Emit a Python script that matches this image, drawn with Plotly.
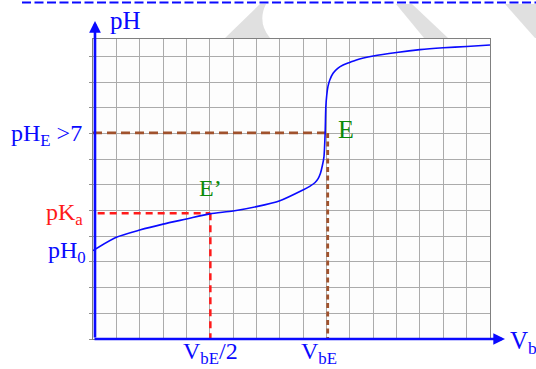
import plotly.graph_objects as go

# Titration curve: volume of base added (grid units) vs pH
vb = [0, 1, 2, 3, 4, 5, 6, 7, 8, 8.99, 9.28, 9.5, 9.64, 9.74, 9.82, 9.89,
      9.94, 9.97, 10.01, 10.06, 10.14, 10.28, 10.48, 10.71, 10.99, 11.28,
      12, 13, 14, 15, 16, 17]
ph = [3.44, 3.96, 4.24, 4.47, 4.67, 4.87, 4.98, 5.15, 5.38, 5.80, 5.94, 6.08,
      6.24, 6.45, 6.74, 7.09, 8.00, 9.04, 9.49, 9.82, 10.08, 10.34, 10.53,
      10.66, 10.76, 10.86, 11.01, 11.15, 11.26, 11.33, 11.38, 11.44]

# Characteristic points
v_eq = 10.05          # equivalence volume V_bE
ph_eq = 8.02          # pH at equivalence
pka = 4.89            # pH at half-equivalence
ph0 = 3.44            # initial pH

X_MAX = 17
Y_MAX = 300 / 25.7

# figure geometry (pixels) for decorations outside the axes
W, H = 536, 369
L, R, T, B = 93, 46, 39, 30
PW, PH_ = W - L - R, H - T - B


def px(x):
    return (x - L) / PW


def py(y):
    return (H - B - y) / PH_


BLUE = "#0a0aff"
GREEN = "#0a8a0a"
RED = "#ff1a1a"
BROWN = "#a0522d"
FONT = "Liberation Serif"

fig = go.Figure()

# dashed construction lines
fig.add_trace(go.Scatter(x=[0, v_eq], y=[ph_eq, ph_eq], mode="lines",
                         line=dict(color=BROWN, width=2.8, dash="9px,5px"),
                         hoverinfo="skip"))
fig.add_trace(go.Scatter(x=[v_eq, v_eq], y=[ph_eq, 0], mode="lines",
                         line=dict(color=BROWN, width=2.8, dash="5px,3.5px"),
                         hoverinfo="skip"))
fig.add_trace(go.Scatter(x=[0.2, v_eq / 2], y=[pka, pka], mode="lines",
                         line=dict(color=RED, width=2.5, dash="7px,5px"),
                         hoverinfo="skip"))
fig.add_trace(go.Scatter(x=[v_eq / 2, v_eq / 2], y=[pka, 0], mode="lines",
                         line=dict(color=RED, width=2.5, dash="7px,5px"),
                         hoverinfo="skip"))

# titration curve
fig.add_trace(go.Scatter(x=vb, y=ph, mode="lines",
                         line=dict(color=BLUE, width=1.6, shape="spline",
                                   smoothing=0.7),
                         hoverinfo="skip"))

annotations = []

# axis arrows
annotations.append(dict(xref="paper", yref="paper", x=px(505), y=0,
                        ax=-(505 - L), ay=0, axref="pixel", ayref="pixel",
                        showarrow=True, arrowhead=2, arrowsize=0.9,
                        arrowwidth=2.6, arrowcolor=BLUE, text=""))
annotations.append(dict(xref="paper", yref="paper", x=px(95), y=py(21),
                        ax=0, ay=(H - B - 21), axref="pixel", ayref="pixel",
                        showarrow=True, arrowhead=2, arrowsize=0.9,
                        arrowwidth=2.6, arrowcolor=BLUE, text=""))


def label(text, color, size=24, **kw):
    d = dict(text=text, showarrow=False,
             font=dict(family=FONT, size=size, color=color))
    d.update(kw)
    annotations.append(d)


# axis titles
label("pH", BLUE, size=25, xref="paper", yref="paper", x=px(108), y=py(20),
      xanchor="left", yanchor="middle")
label("V<sub>b</sub>", BLUE, size=25, xref="paper", yref="y", x=px(508),
      y=0, xanchor="left", yanchor="middle", yshift=-3)

# y-side labels
label("pH<sub>E</sub> >7", BLUE, xref="paper", yref="y", x=0, y=ph_eq,
      xanchor="right", yanchor="middle", xshift=-9, yshift=-2)
label("pK<sub>a</sub>", RED, xref="paper", yref="y", x=0, y=pka,
      xanchor="right", yanchor="middle", xshift=-8, yshift=-1)
label("pH<sub>0</sub>", BLUE, xref="paper", yref="y", x=0, y=ph0,
      xanchor="right", yanchor="middle", xshift=-5, yshift=-1)

# x-side labels
label("V<sub>bE</sub>/2", BLUE, xref="x", yref="paper", x=v_eq / 2, y=0,
      xanchor="center", yanchor="top", yshift=3)
label("V<sub>bE</sub>", BLUE, xref="x", yref="paper", x=v_eq, y=0,
      xanchor="center", yanchor="top", yshift=3, xshift=-9)

# point labels
label("E’", GREEN, xref="x", yref="y", x=v_eq / 2, y=pka + 1.0,
      xanchor="center", yanchor="middle")
label("E", GREEN, size=26, xref="x", yref="y", x=v_eq + 0.8, y=ph_eq + 0.15,
      xanchor="center", yanchor="middle")

shapes = []
# faint background marks above the chart
wm = "rgba(218,218,218,0.85)"
shapes.append(dict(type="path", xref="paper", yref="paper", layer="below",
                   path=(f"M {px(260)},{py(4)} L {px(225)},{py(38)} "
                         f"L {px(270)},{py(38)} Q {px(257)},{py(22)} "
                         f"{px(266)},{py(4)} Z"),
                   fillcolor=wm, line=dict(width=0)))
shapes.append(dict(type="path", xref="paper", yref="paper", layer="below",
                   path=(f"M {px(396)},{py(4)} L {px(412)},{py(4)} "
                         f"L {px(448)},{py(38)} L {px(424)},{py(38)} Z"),
                   fillcolor=wm, line=dict(width=0)))
shapes.append(dict(type="path", xref="paper", yref="paper", layer="below",
                   path=(f"M {px(505)},{py(4)} L {px(540)},{py(4)} "
                         f"L {px(540)},{py(38)} L {px(535)},{py(38)} Z"),
                   fillcolor=wm, line=dict(width=0)))
# dashed rule across the top of the page
shapes.append(dict(type="line", xref="paper", yref="paper",
                   x0=px(22), x1=px(540), y0=py(2.5), y1=py(2.5),
                   line=dict(color=BLUE, width=2, dash="9px,3.5px")))

fig.update_layout(
    width=W, height=H,
    margin=dict(l=L, r=R, t=T, b=B, pad=0),
    paper_bgcolor="white",
    plot_bgcolor="#fdfdfd",
    showlegend=False,
    annotations=annotations,
    shapes=shapes,
    xaxis=dict(range=[0, X_MAX], dtick=1, showgrid=True, gridcolor="#ababab",
               gridwidth=1, zeroline=False, showticklabels=False, ticks="",
               showline=True, linecolor="#808080", linewidth=1, mirror=True,
               fixedrange=True),
    yaxis=dict(range=[0, Y_MAX], dtick=1, showgrid=True, gridcolor="#ababab",
               gridwidth=1, zeroline=False, showticklabels=False,
               ticks="outside", ticklen=3, tickcolor="#909090", tickwidth=1,
               showline=True, linecolor="#808080", linewidth=1, mirror=True,
               fixedrange=True),
)

fig.write_html("out.html")
